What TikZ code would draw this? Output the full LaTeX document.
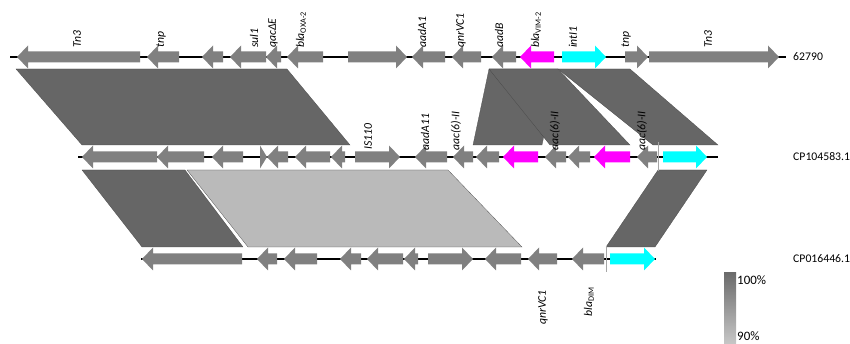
\documentclass[tikz,border=0pt]{standalone}
\usepackage{fontspec}
\setmainfont{Carlito}

% gene arrow: [colour]{tail}{tip}{y}
\newcommand{\gene}[4][genegray]{%
  \pgfmathsetmacro\hb{#3-sign(#3-#2)*min(11,abs(#3-#2))}%
  \fill[#1] (#2,#4-5.5) -- (\hb,#4-5.5) -- (\hb,#4-11.5) -- (#3,#4)
    -- (\hb,#4+11.5) -- (\hb,#4+5.5) -- (#2,#4+5.5) -- cycle;}

\begin{document}
\begin{tikzpicture}[x=0.3mm,y=-0.3mm,
  lbl/.style={rotate=90,anchor=west,inner sep=0pt,font=\fontsize{10}{12}\selectfont\itshape},
  lblb/.style={lbl,anchor=east},
  acc/.style={anchor=west,inner sep=0pt,font=\fontsize{10}{12}\selectfont},
  band/.style={fill=#1,draw=gray!55!black,line width=0.2pt},
  backbone/.style={line width=1.7pt}]
  \colorlet{genegray}{black!50}
  \colorlet{hit}{black!60}
  \colorlet{hitlow}{black!27}
  \definecolor{vim}{RGB}{255,0,255}
  \definecolor{intgene}{RGB}{0,255,255}
  \useasboundingbox (0,0) rectangle (850,344);
  \clip (0,0) rectangle (850,344);

  % similarity bands
  \fill[band=hit] (16,69) -- (287,69) -- (350,145) -- (82,145) -- cycle;
  \fill[band=hit] (489,69) -- (558,69) -- (542,145) -- (473,145) -- cycle;
  \fill[band=hit] (489,69) -- (558,69) -- (630,145) -- (550,145) -- cycle;
  \fill[band=hit] (558,69) -- (630,69) -- (718,145) -- (653,145) -- cycle;
  \fill[band=hit] (82,170) -- (185,170) -- (243,247) -- (142,247) -- cycle;
  \fill[band=hitlow] (187,170) -- (448,170) -- (522,247) -- (248,247) -- cycle;
  \fill[band=hit] (658,170) -- (707,170) -- (655,247) -- (606,247) -- cycle;

  % backbones
  \draw[backbone] (10,57) -- (786,57);
  \draw[backbone] (78,157) -- (718,157);
  \draw[backbone] (141,259) -- (656,259);
  \draw[gray!70,line width=0.4pt] (658,142) -- (658,171);
  \draw[gray!70,line width=0.4pt] (606,246) -- (606,272);

  % 62790
  \foreach \t/\p in {140/17, 179/147, 223/202, 266/230, 281/266, 323/287,
      348/407, 445/412, 481/452, 516/492, 625/648, 649/779}
    \gene{\t}{\p}{57};
  \gene[vim]{554}{520}{57}
  \gene[intgene]{562}{606}{57}

  % CP104583.1
  \foreach \t/\p in {157/82, 204/157, 243/212, 260/267, 288/267, 330/295,
      345/331, 355/400, 447/415, 473/453, 499/476, 566/545, 590/568, 657/637}
    \gene{\t}{\p}{157};
  \gene[vim]{538}{503}{157}
  \gene[vim]{630}{594}{157}
  \gene[intgene]{663}{707}{157}

  % CP016446.1
  \foreach \t/\p in {242/142, 277/257, 317/284, 361/340, 403/367, 418/404,
      428/473, 521/485, 557/528, 604/572}
    \gene{\t}{\p}{259};
  \gene[intgene]{610}{655}{259}

  % gene names
  \node[lbl] (tnA) at (77,48) {Tn3};
  \node[lbl] (tnpA) at (161,48) {tnp};
  \node[lbl] (sulA) at (254,48) {sul1};
  \node[lbl] (qacA) at (273,48) {qacΔE};
  \node[lbl] (oxaA) at (301,48) {bla\textsubscript{\upshape OXA-2}};
  \node[lbl] (aadaA) at (422,48) {aadA1};
  \node[lbl] (qnrA) at (461,48) {qnrVC1};
  \node[lbl] (aadbA) at (499,48) {aadB};
  \node[lbl] (vimA) at (536,48) {bla\textsubscript{\upshape VIM-2}};
  \node[lbl] (intA) at (573,48) {intI1};
  \node[lbl] (tnpB) at (626,48) {tnp};
  \node[lbl] (tnB) at (708,48) {Tn3};

  \node[lbl] (isB) at (368,150) {IS110};
  \node[lbl] (aadaB) at (425,151) {aadA11};
  \node[lbl] (aacB) at (456,151) {aac(6)-II};
  \node[lbl] (aacC) at (555,151) {aac(6)-II};
  \node[lbl] (aacD) at (642,151) {aac(6)-II};

  \node[lblb] (qnrC) at (543,290) {qnrVC1};
  \node[lblb] (dimC) at (589,287) {bla\textsubscript{\upshape DIM}};

  % accessions
  \node[acc] (accA) at (793,57) {62790};
  \node[acc] (accB) at (793,157) {CP104583.1};
  \node[acc] (accC) at (793,259) {CP016446.1};

  % identity scale
  \shade[top color=black!58, bottom color=black!18] (724,273) rectangle (736,352);
  \node[acc,font=\fontsize{11}{13}\selectfont] (hi) at (737,280) {100\%};
  \node[acc,font=\fontsize{11}{13}\selectfont] (lo) at (737,336) {90\%};
\end{tikzpicture}
\end{document}
